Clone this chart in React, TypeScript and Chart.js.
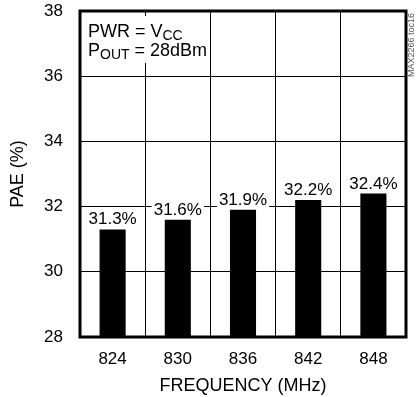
import React, { useEffect, useRef } from "react";
import { Chart, registerables } from "chart.js";

Chart.register(...registerables);

const categories = ["824", "830", "836", "842", "848"];
const paeValues = [31.3, 31.6, 31.9, 32.2, 32.4];
const valueLabels = ["31.3%", "31.6%", "31.9%", "32.2%", "32.4%"];
const yMin = 28;
const yMax = 38;
const yStep = 2;
const xTitle = "FREQUENCY (MHz)";
const yTitle = "PAE (%)";
const sideNote = "MAX2266 toc16";

const FONT = "'Liberation Sans Narrow', 'Arial Narrow', 'Liberation Sans', Arial, sans-serif";

const framePlugin = {
  id: "frame",
  afterDatasetsDraw(chart: any) {
    const { ctx, chartArea } = chart;
    ctx.save();
    ctx.strokeStyle = "#000";
    ctx.lineWidth = 3;
    ctx.strokeRect(chartArea.left, chartArea.top, chartArea.right - chartArea.left, chartArea.bottom - chartArea.top);
    ctx.restore();
  },
};

const barLabelPlugin = {
  id: "barLabels",
  afterDatasetsDraw(chart: any) {
    const { ctx } = chart;
    const meta = chart.getDatasetMeta(0);
    ctx.save();
    ctx.font = `17px ${FONT}`;
    ctx.textAlign = "center";
    ctx.textBaseline = "alphabetic";
    meta.data.forEach((bar: any, i: number) => {
      const text = valueLabels[i];
      const w = ctx.measureText(text).width;
      const y = bar.y - 5;
      ctx.fillStyle = "#fff";
      ctx.fillRect(bar.x - w / 2 - 2, y - 15, w + 4, 18);
      ctx.fillStyle = "#000";
      ctx.fillText(text, bar.x, y);
    });
    ctx.restore();
  },
};

const notePlugin = {
  id: "note",
  afterDraw(chart: any) {
    const { ctx, chartArea } = chart;
    const x0 = chartArea.left + 8;
    ctx.save();
    ctx.fillStyle = "#fff";
    ctx.fillRect(chartArea.left + 3, chartArea.top + 5, 112, 47);
    ctx.fillStyle = "#000";
    ctx.textBaseline = "alphabetic";
    ctx.textAlign = "left";
    // line 1
    let x = x0;
    let y = chartArea.top + 26;
    ctx.font = `18px ${FONT}`;
    ctx.fillText("PWR = V", x, y);
    x += ctx.measureText("PWR = V").width;
    ctx.font = `14px ${FONT}`;
    ctx.fillText("CC", x, y + 3);
    // line 2
    x = x0;
    y = chartArea.top + 45;
    ctx.font = `18px ${FONT}`;
    ctx.fillText("P", x, y);
    x += ctx.measureText("P").width;
    ctx.font = `14px ${FONT}`;
    ctx.fillText("OUT", x, y + 3);
    x += ctx.measureText("OUT").width;
    ctx.font = `18px ${FONT}`;
    ctx.fillText(" = 28dBm", x, y);
    // side note
    ctx.font = `9px ${FONT}`;
    ctx.fillStyle = "#555";
    ctx.translate(chartArea.right + 6, chartArea.top + 2);
    ctx.rotate(-Math.PI / 2);
    ctx.textAlign = "right";
    ctx.textBaseline = "middle";
    ctx.fillText(sideNote, 0, 0);
    ctx.restore();
  },
};

export default function App() {
  const ref = useRef<HTMLCanvasElement>(null);
  useEffect(() => {
    document.body.style.margin = "0";
    const canvas = ref.current;
    if (!canvas) return;
    const chart = new Chart(canvas, {
      type: "bar",
      data: {
        labels: categories,
        datasets: [
          {
            data: paeValues,
            backgroundColor: "#000",
            borderWidth: 0,
            barPercentage: 0.4,
            categoryPercentage: 1,
          },
        ],
      },
      options: {
        responsive: false,
        animation: false,
        devicePixelRatio: 1,
        layout: { padding: { left: 0, right: 11, top: 11, bottom: 0 } },
        plugins: {
          legend: { display: false },
          tooltip: { enabled: false },
        },
        scales: {
          x: {
            type: "category",
            offset: true,
            grid: {
              offset: true,
              color: "#000",
              lineWidth: 1,
              drawTicks: true,
              tickLength: 12,
              tickColor: "rgba(0,0,0,0)",
            },
            border: { display: false },
            ticks: { color: "#000", padding: 0, font: { family: FONT, size: 17 } },
            title: {
              display: true,
              text: xTitle,
              color: "#000",
              font: { family: FONT, size: 18, lineHeight: 1.2 },
              padding: { top: 0, bottom: 0 },
            },
            afterFit(scale: any) {
              scale.height = 60;
            },
          },
          y: {
            min: yMin,
            max: yMax,
            grid: {
              color: "#000",
              lineWidth: 1,
              drawTicks: true,
              tickLength: 17,
              tickColor: "rgba(0,0,0,0)",
            },
            border: { display: false },
            ticks: { stepSize: yStep, color: "#000", padding: 0, font: { family: FONT, size: 17, lineHeight: 1 } },
            title: {
              display: true,
              text: yTitle,
              color: "#000",
              font: { family: FONT, size: 18, lineHeight: 1.2 },
              padding: { top: 7, bottom: 0 },
            },
            afterFit(scale: any) {
              scale.width = 80;
            },
          },
        },
      },
      plugins: [framePlugin, barLabelPlugin, notePlugin],
    });
    return () => chart.destroy();
  }, []);
  return (
    <div style={{ position: "absolute", left: 0, top: 0, width: 417, height: 397 }}>
      <canvas ref={ref} width={417} height={397} style={{ width: 417, height: 397 }} />
    </div>
  );
}
